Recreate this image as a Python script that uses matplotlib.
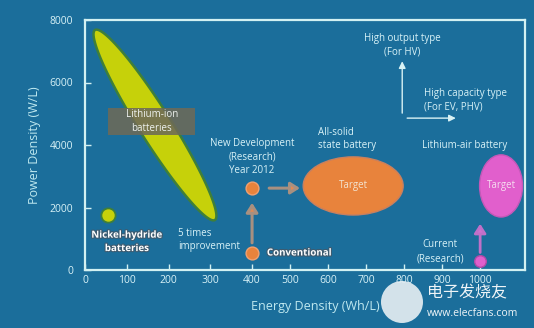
import numpy as np
import matplotlib
matplotlib.use("Agg")
import matplotlib.pyplot as plt
from matplotlib.patches import Ellipse, Polygon, Rectangle, Circle
import matplotlib.patheffects as pe

# ---------------- data ----------------
x_ticks = [0, 100, 200, 300, 400, 500, 600, 700, 800, 900, 1000]
y_ticks = [0, 2000, 4000, 6000, 8000]

# Lithium-ion region: two tips of the elongated ellipse (Wh/L, W/L)
liion_tip_top = (24, 7680)
liion_tip_bottom = (311, 1600)

# point batteries (Wh/L, W/L)
nickel_point = (55, 1750)
new_dev_point = (400, 2620)
conventional_point = (400, 560)
current_air_point = (1000, 290)

# target regions: centre x, centre y, width, height
solid_target = (666, 2690, 263, 1860)
air_target = (1055, 2690, 113, 1990)

# ---------------- style ----------------
BG = "#1b6e9b"
FRAME = "#d3f1f2"
TXT = "#d8f2f7"
YEL = "#c6d10a"
YEL_EDGE = "#3f7f3a"
ORANGE = "#e8833c"
PINK = "#e15fcc"

plt.rcParams["font.family"] = ["Open Sans", "DejaVu Sans"]

fig = plt.figure(figsize=(5.34, 3.28), dpi=100, facecolor=BG)
ax = fig.add_axes([85 / 534, 1 - 270 / 328, 440 / 534, 250 / 328], facecolor=BG)

kx_d = [-500, 0, 400, 1000, 1500]
kx_p = [-208.75, 0, 167, 395, 585]
fwd = lambda v: np.interp(v, kx_d, kx_p)
inv = lambda v: np.interp(v, kx_p, kx_d)
ax.set_xscale("function", functions=(fwd, inv))
ax.set_xlim(0, 1118)
ax.set_ylim(0, 8000)

for s in ax.spines.values():
    s.set_color(FRAME)
    s.set_linewidth(1.6)
ax.set_xticks(x_ticks)
ax.set_yticks(y_ticks)
ax.tick_params(axis="both", direction="in", length=4, width=1, color=FRAME,
               labelcolor=TXT, labelsize=7.5)
ax.tick_params(axis="y", pad=8.5)
ax.tick_params(axis="x", pad=3.5)
ax.set_xlabel("Energy Density (Wh/L)", color="#bfe9f0", fontsize=9)
ax.set_ylabel("Power Density (W/L)", color="#bfe9f0", fontsize=9)
ax.xaxis.set_label_coords((315 - 85) / 440, -0.12)
ax.yaxis.set_label_coords(-0.1, 0.5)

# Lithium-ion ellipse (built in display space from the data tips)
p1 = ax.transData.transform(liion_tip_top)
p2 = ax.transData.transform(liion_tip_bottom)
c = (p1 + p2) / 2
a = (p1 - p2) / 2
n = np.array([-a[1], a[0]]) / np.hypot(*a)
t = np.linspace(0, 2 * np.pi, 200)
disp = c + np.outer(np.cos(t), a) + np.outer(np.sin(t), n * 16)
poly_data = ax.transData.inverted().transform(disp)
ax.add_patch(Polygon(poly_data, closed=True, fc=YEL, ec=YEL_EDGE, lw=1.8, zorder=2))

# Label box for lithium ion
ax.add_patch(Rectangle((55, 4320), 208, 864, fc="#6d6a58", ec="none", alpha=0.88, zorder=3))
ax.text(160, 4750, "Lithium-ion\nbatteries", ha="center", va="center", color="#eef2ee",
        fontsize=7, linespacing=1.35, zorder=4)

# Nickel hydride
ax.scatter([nickel_point[0]], [nickel_point[1]], s=105, c=YEL, edgecolors=YEL_EDGE,
           linewidths=1.3, zorder=4)
ax.text(100, 900, "Nickel-hydride\nbatteries", ha="center", va="center", color="white",
        fontsize=7, fontweight="bold", linespacing=1.3,
        path_effects=[pe.withStroke(linewidth=1.6, foreground="#3d5b70")])

ax.text(223, 960, "5 times\nimprovement", ha="left", va="center", color=TXT,
        fontsize=7, linespacing=1.35)

# Conventional -> new development
ax.scatter([new_dev_point[0], conventional_point[0]], [new_dev_point[1], conventional_point[1]],
           s=85, c=ORANGE, edgecolors="#f0a070", linewidths=1.0, zorder=5)
ax.annotate("", xy=(new_dev_point[0], 2150), xytext=(conventional_point[0], 870),
            arrowprops=dict(arrowstyle="-|>,head_width=0.35,head_length=0.55", fc="#e08a55",
                            ec="#a89080", lw=2.2, shrinkA=0, shrinkB=0), zorder=4)
ax.annotate("", xy=(526, new_dev_point[1]), xytext=(445, new_dev_point[1]),
            arrowprops=dict(arrowstyle="-|>,head_width=0.35,head_length=0.55", fc="#e08a55",
                            ec="#a89080", lw=2.2, shrinkA=0, shrinkB=0), zorder=4)
ax.text(400, 3620, "New Development\n(Research)\nYear 2012", ha="center", va="center",
        color=TXT, fontsize=7, linespacing=1.3)
ax.text(439, 544, "Conventional", ha="left", va="center", color="white", fontsize=7,
        fontweight="bold", path_effects=[pe.withStroke(linewidth=1.6, foreground="#3d5b70")])

# All-solid target
ax.add_patch(Ellipse(solid_target[:2], solid_target[2], solid_target[3], fc=ORANGE,
                     ec="#c88060", lw=1.0, zorder=3))
ax.text(solid_target[0], solid_target[1], "Target", ha="center", va="center",
        color="#f3e3d0", fontsize=7, zorder=4)
ax.text(574, 4190, "All-solid\nstate battery", ha="left", va="center", color=TXT,
        fontsize=7, linespacing=1.35)

# Lithium-air
ax.add_patch(Ellipse(air_target[:2], air_target[2], air_target[3], fc=PINK,
                     ec="#c458b8", lw=1.0, zorder=3))
ax.text(air_target[0], air_target[1], "Target", ha="center", va="center",
        color="#f6dcf0", fontsize=7, zorder=4)
ax.text(960, 3970, "Lithium-air battery", ha="center", va="center", color=TXT, fontsize=7)
ax.scatter([current_air_point[0]], [current_air_point[1]], s=70, c=PINK,
           edgecolors="#b04aa8", linewidths=1.0, zorder=5)
ax.annotate("", xy=(current_air_point[0], 1480), xytext=(current_air_point[0], 560),
            arrowprops=dict(arrowstyle="-|>,head_width=0.35,head_length=0.55", fc="#d070d0",
                            ec="#c070c8", lw=2.0, shrinkA=0, shrinkB=0), zorder=4)
ax.text(895, 580, "Current\n(Research)", ha="center", va="center", color=TXT,
        fontsize=7, linespacing=1.35)

# Direction legend arrows
ax.annotate("", xy=(795, 6680), xytext=(795, 5020),
            arrowprops=dict(arrowstyle="-|>,head_width=0.2,head_length=0.4", color="#d8f2f5",
                            lw=1.0, shrinkA=0, shrinkB=0))
ax.text(795, 7200, "High output type\n(For HV)", ha="center", va="center", color=TXT,
        fontsize=7, linespacing=1.35)
ax.annotate("", xy=(936, 4860), xytext=(808, 4860),
            arrowprops=dict(arrowstyle="-|>,head_width=0.2,head_length=0.4", color="#d8f2f5",
                            lw=1.0, shrinkA=0, shrinkB=0))
ax.text(853, 5440, "High capacity type\n(For EV, PHV)", ha="left", va="center", color=TXT,
        fontsize=7, linespacing=1.35)

# watermark
fig.patches.append(Circle((4.02, (328 - 302) / 100), 0.21, transform=fig.dpi_scale_trans,
                          fc="#e4edf2", ec="none", alpha=0.92, zorder=10))
fig.text(427 / 534, 1 - 293 / 328, "电子发烧友", ha="left", va="center", color="#eef4f7",
         fontsize=11.5, family=["Noto Sans CJK SC", "DejaVu Sans"], zorder=10)
fig.text(427 / 534, 1 - 313 / 328, "www.elecfans.com", ha="left", va="center",
         color="#eef4f7", fontsize=7.6, zorder=10)

fig.savefig("out.png", dpi=100, facecolor=BG)
